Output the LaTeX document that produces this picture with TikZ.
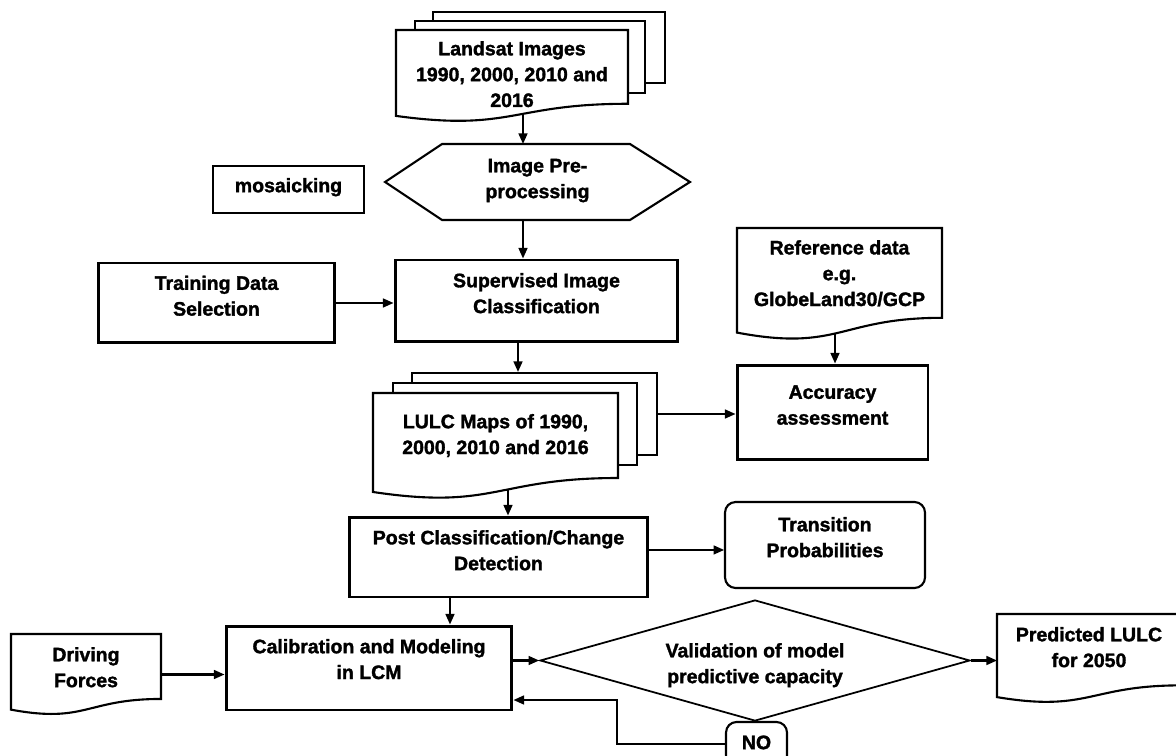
\documentclass[tikz,border=0pt]{standalone}
\usepackage{fontspec}
\setmainfont{Liberation Sans}[BoldFeatures={FakeBold=1.6}]
\usepackage{tikz}
\usetikzlibrary{shapes.geometric,arrows.meta,calc,backgrounds}

% text block moved up inside its box, box size unchanged
\newcommand{\lifted}[2]{\raisebox{#1}[\height][\depth]{\begin{tabular}{@{}c@{}}#2\end{tabular}}}
% page with wavy lower edge, drawn round a named node
\newcommand{\docshape}[1]{\draw[docline] (#1.north west) -- (#1.north east)
  -- ($(#1.north east)!0.802!(#1.south east)$)
  .. controls ($(#1.north)!0.802!(#1.south)$) and ($(#1.north)!1.107!(#1.south)$)
  .. ($(#1.north west)!0.934!(#1.south west)$) -- cycle;}

\tikzset{
  txt/.style={font=\fontsize{11.1pt}{14.7pt}\selectfont\bfseries, inner sep=0pt, outer sep=0pt},
  thickbox/.style={txt, draw, fill=white, line width=1.7pt, outer sep=0.85pt},
  thinbox/.style={txt, draw, fill=white, line width=1pt, outer sep=0.5pt},
  roundbox/.style={thinbox, line width=1.2pt, rounded corners=6pt},
  page/.style={draw, fill=white, line width=1.2pt, inner sep=0pt},
  docline/.style={fill=white, line width=1.2pt},
  arr/.style={line width=1.15pt, -{Triangle[length=6pt,width=5pt]}},
  link/.style={line width=1.15pt}
}

\begin{document}
\begin{tikzpicture}[x=0.02cm, y=-0.02cm]
\useasboundingbox (0,0) rectangle (1176,756);
\clip (0,0) rectangle (1176,756);

% documents (outlines go on the background layer)
\node[txt, minimum width=4.64cm, minimum height=1.84cm] (land) at (512,76)
  {\lifted{0pt}{Landsat Images\\1990, 2000, 2010 and\\2016}};
\node[txt, minimum width=4.9cm, minimum height=2.12cm] (lulc) at (495.5,446)
  {\lifted{5.7pt}{LULC Maps of 1990,\\2000, 2010 and 2016}};
\node[txt, minimum width=4.1cm, minimum height=2.24cm] (ref) at (839.5,284)
  {\lifted{5.1pt}{Reference data\\e.g.\\GlobeLand30/GCP}};
\node[txt, minimum width=3cm, minimum height=1.62cm] (drive) at (86,674.5)
  {\lifted{3.1pt}{Driving\\Forces}};
\node[txt, minimum width=3.68cm, minimum height=1.78cm] (pred) at (1089,658.5)
  {\lifted{5.4pt}{Predicted LULC\\for 2050}};

\node[txt, minimum width=6.1cm, minimum height=1.52cm] (hex) at (537.5,182)
  {\lifted{1.1pt}{Image Pre-\\processing}};

% boxes
\node[thinbox, minimum width=3.02cm, minimum height=0.94cm] (mos) at (288.5,189.5)
  {\lifted{1.4pt}{mosaicking}};
\node[thickbox, minimum width=4.74cm, minimum height=1.6cm] (train) at (216.5,303)
  {\lifted{3.1pt}{Training Data\\Selection}};
\node[thickbox, minimum width=5.66cm, minimum height=1.64cm] (sup) at (536.5,301)
  {\lifted{3.4pt}{Supervised Image\\Classification}};
\node[thickbox, minimum width=3.82cm, minimum height=1.9cm] (acc) at (832.5,412.5)
  {\lifted{3.4pt}{Accuracy\\assessment}};
\node[thickbox, minimum width=5.98cm, minimum height=1.6cm] (post) at (498.5,557)
  {\lifted{2.8pt}{Post Classification/Change\\Detection}};
\node[roundbox, minimum width=4cm, minimum height=1.72cm] (trans) at (825,545)
  {\lifted{3.4pt}{Transition\\Probabilities}};
\node[thickbox, minimum width=5.72cm, minimum height=1.68cm] (cal) at (369,668)
  {\lifted{4pt}{Calibration and Modeling\\in LCM}};
\node[thinbox, shape=diamond, aspect=3.55, minimum width=8.6cm, minimum height=2.42cm] (dia) at (755,660.5)
  {\lifted{-2.6pt}{Validation of model\\predictive capacity}};
\node[roundbox, minimum width=1.22cm, minimum height=0.88cm] (no) at (756.5,744)
  {\lifted{0pt}{NO}};

\begin{pgfonlayer}{background}
  \fill[white] (0,0) rectangle (1176,756);
  \node[page, minimum width=4.64cm, minimum height=1.42cm] (landb2) at (549,47.5) {};
  \node[page, minimum width=4.6cm, minimum height=1.44cm] (landb1) at (530,57) {};
  \docshape{land}
  \node[page, minimum width=4.9cm, minimum height=1.64cm] (lulcb2) at (534.5,414) {};
  \node[page, minimum width=4.88cm, minimum height=1.64cm] (lulcb1) at (515,424) {};
  \docshape{lulc}
  \docshape{ref}
  \docshape{drive}
  \docshape{pred}
  \draw[docline] (hex.west) -- ($(hex.north west)+(57,0)$) -- ($(hex.north east)+(-60,0)$)
    -- (hex.east) -- ($(hex.south east)+(-60,0)$) -- ($(hex.south west)+(57,0)$) -- cycle;
\end{pgfonlayer}

\coordinate (colA) at (523,0);
\coordinate (colB) at (518,0);
\coordinate (colC) at (450,0);
\coordinate (landout) at ($(land.south)+(11,-8)$);
\coordinate (lulcout) at ($(lulc.south)+(12.5,-9)$);
\coordinate (refout) at ($(ref.south)+(-4.5,-6)$);
\coordinate (bend) at (617,700);

\draw[arr] (landout) -- (hex.north -| landout);
\draw[arr] (hex.south -| colA) -- (sup.north -| colA);
\draw[arr] (train.east) -- (train.east -| sup.west);
\draw[arr] (sup.south -| colB) -- (lulcb2.north -| colB);
\draw[arr] (refout) -- (acc.north -| refout);
\draw[arr] (lulcb2.east) -- (lulcb2.east -| acc.west);
\draw[arr] (lulcout) -- (post.north -| lulcout);
\draw[arr] ([yshift=4pt]post.east) -- ([yshift=4pt]post.east -| trans.west);
\draw[arr] (post.south -| colC) -- (cal.north -| colC);
\draw[arr] (drive.east) -- (drive.east -| cal.west);
\draw[arr] (dia.west -| cal.east) -- (dia.west);
\draw[arr] (dia.east) -- (dia.east -| pred.west);
\draw[link] (dia.south) -- (no.north);
\draw[arr] (no.west) -- (no.west -| bend) -- (bend) -- (bend -| cal.east);
\end{tikzpicture}
\end{document}
